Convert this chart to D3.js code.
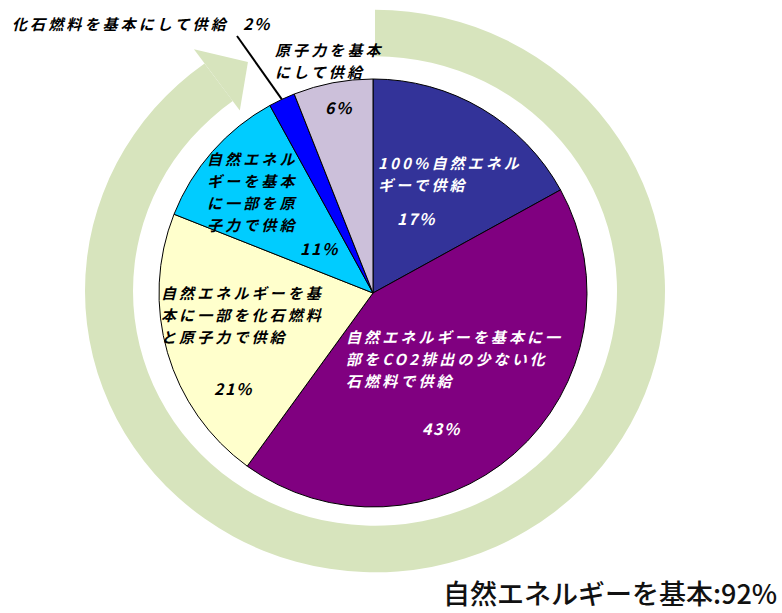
<!DOCTYPE html>
<html><head><meta charset="utf-8">
<script src="https://cdn.jsdelivr.net/npm/d3@7"></script>
<style>body{margin:0;background:#fff} svg{display:block}</style>
</head><body>
<svg id="chart" width="782" height="613"></svg>
<script>
// ---- data ----
const categories = [
  "100%自然エネルギーで供給",
  "自然エネルギーを基本に一部をCO2排出の少ない化石燃料で供給",
  "自然エネルギーを基本に一部を化石燃料と原子力で供給",
  "自然エネルギーを基本に一部を原子力で供給",
  "化石燃料を基本にして供給",
  "原子力を基本にして供給"
];
const values = [17, 43, 21, 11, 2, 6];
const colors = ["#333399", "#800080", "#FFFFCC", "#00CCFF", "#0000FF", "#CCC0DA"];
const labelLines = [
  ["100%自然エネル", "ギーで供給"],
  ["自然エネルギーを基本に一", "部をCO2排出の少ない化", "石燃料で供給"],
  ["自然エネルギーを基", "本に一部を化石燃料", "と原子力で供給"],
  ["自然エネル", "ギーを基本", "に一部を原", "子力で供給"],
  ["化石燃料を基本にして供給"],
  ["原子力を基本", "にして供給"]
];
const percentLabels = ["17%", "43%", "21%", "11%", "2%", "6%"];
const textColors = ["#ffffff", "#ffffff", "#000000", "#000000", "#000000", "#000000"];
const summaryLabel = "自然エネルギーを基本:92%";

// ---- layout ----
const svg = d3.select("#chart");
const cx = 373, cy = 293, R = 214;
const ringCx = 375, ringCy = 291, ringSy = 0.97, ringIn = 242, ringOut = 290;
const deg = Math.PI / 180;

// ring arrow
const ring = svg.append("g").attr("transform", `translate(${ringCx},${ringCy}) scale(1,${ringSy})`);
const bodyEnd = 324 * deg;
ring.append("path")
  .attr("d", d3.arc()({innerRadius: ringIn, outerRadius: ringOut, startAngle: 0, endAngle: bodyEnd}))
  .attr("fill", "#D7E4BD");
const pol = (r, a) => [r * Math.sin(a), -r * Math.cos(a)];
const head = [pol(308, bodyEnd), pol(268, 331.7 * deg), pol(230, bodyEnd)];
ring.append("path")
  .attr("d", d3.line()(head) + "Z")
  .attr("fill", "#D7E4BD");

// pie
const pie = d3.pie().sort(null).value(d => d)(values);
const arc = d3.arc().innerRadius(0).outerRadius(R);
const g = svg.append("g").attr("transform", `translate(${cx},${cy})`);
g.selectAll("path.slice").data(pie).join("path")
  .attr("class", "slice")
  .attr("d", arc)
  .attr("fill", (d, i) => colors[i])
  .attr("stroke", "#000")
  .attr("stroke-width", 1);

// labels (absolute positions of text blocks)
const layout = [
  {x: 378, y: 162, dy: 22, px: 397, py: 218},
  {x: 346, y: 336, dy: 22, px: 422, py: 428},
  {x: 161, y: 292, dy: 22, px: 214, py: 388},
  {x: 207, y: 158, dy: 22, px: 300, py: 248},
  {x: 12,  y: 23,  dy: 22, px: 243, py: 23},
  {x: 275, y: 49,  dy: 22, px: 325, py: 107}
];
const fontFam = "'Noto Sans CJK JP','Noto Sans',sans-serif";
const labels = svg.append("g")
  .attr("font-family", fontFam)
  .attr("font-style", "italic")
  .attr("font-weight", "bold");

labelLines.forEach((lines, i) => {
  const L = layout[i];
  lines.forEach((t, j) => {
    labels.append("text")
      .attr("x", L.x).attr("y", L.y + j * L.dy)
      .attr("dominant-baseline", "central")
      .attr("font-size", 15)
      .attr("letter-spacing", "3.1px")
      .attr("fill", textColors[i])
      .text(t);
  });
  labels.append("text")
    .attr("x", L.px).attr("y", L.py)
    .attr("dominant-baseline", "central")
    .attr("font-size", 16)
    .attr("letter-spacing", "1.5px")
    .attr("fill", textColors[i])
    .text(percentLabels[i]);
});

// leader line for the 2% slice
const small = pie[4];
const midA = (small.startAngle + small.endAngle) / 2;
const edge = [cx + R * Math.sin(midA), cy - R * Math.cos(midA)];
svg.append("line")
  .attr("x1", 237).attr("y1", 36)
  .attr("x2", edge[0]).attr("y2", edge[1])
  .attr("stroke", "#000").attr("stroke-width", 2);

// summary
svg.append("text")
  .attr("x", 443).attr("y", 592)
  .attr("dominant-baseline", "central")
  .attr("font-family", fontFam)
  .attr("font-size", 27)
  .attr("font-weight", 500)
  .attr("fill", "#111")
  .text(summaryLabel);
</script>
</body></html>
